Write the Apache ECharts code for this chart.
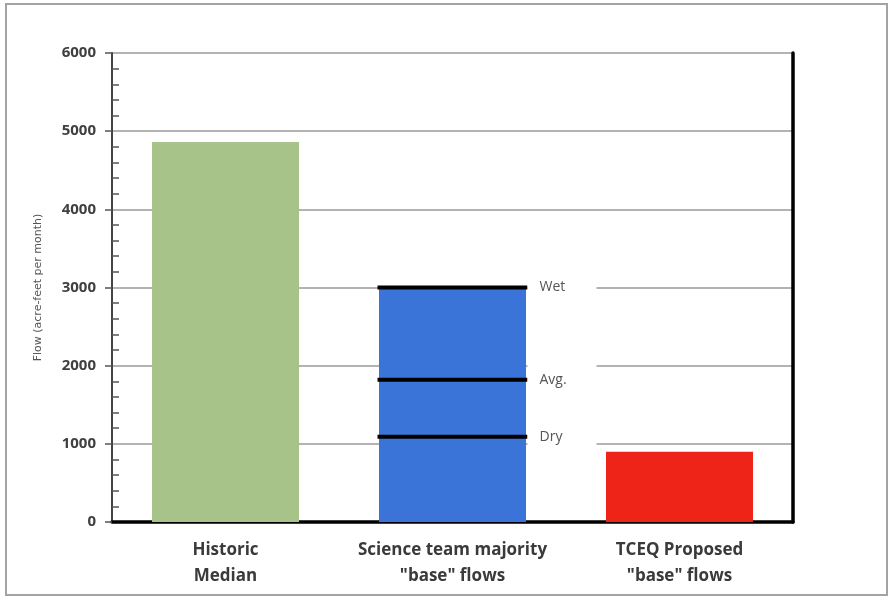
<!DOCTYPE html>
<html>
<head>
<meta charset="utf-8">
<script src="https://cdn.jsdelivr.net/npm/echarts@6/dist/echarts.min.js"></script>
<style>
  body { margin: 0; background: #fff; }
  #frame {
    position: absolute; left: 5px; top: 3px;
    width: 879px; height: 589px;
    border: 2px solid #a3a3a3;
  }
  #chart { position: absolute; left: 0; top: 0; width: 890px; height: 596px; }
</style>
</head>
<body>
<div id="frame"></div>
<div id="chart"></div>
<script>
  // categories and values
  var categories = ['Historic\nMedian', 'Science team majority\n"base" flows', 'TCEQ Proposed\n"base" flows']
  var flowValues = [4860, 3000, 900]
  var barColors = ['#a8c38a', '#3b74d8', '#ef2419']

  // Wet / Avg. / Dry levels drawn across the science team bar
  var levelNames = ['Wet', 'Avg.', 'Dry']
  var levelValues = [3000, 1820, 1090]
  var levelCategory = 1

  var yTicks = [0, 1000, 2000, 3000, 4000, 5000, 6000]
  var yMin = yTicks[0]
  var yMax = yTicks[yTicks.length - 1]
  var yStep = yTicks[1] - yTicks[0]

  var chart = echarts.init(document.getElementById('chart'))

  var barData = flowValues.map(function (v, i) {
    return { value: v, itemStyle: { color: barColors[i] } }
  })
  var levelData = levelValues.map(function (v, i) {
    return { name: levelNames[i], value: [levelCategory, v] }
  })

  var option = {
    animation: false,
    grid: { left: 112, right: 97, top: 53, bottom: 74 },
    xAxis: [
      {
        type: 'category',
        data: categories,
        axisLine: { show: true, lineStyle: { color: '#333', width: 2 } },
        axisTick: { show: false },
        axisLabel: {
          interval: 0,
          margin: 15,
          color: '#3a3a3a',
          fontSize: 17,
          fontWeight: 'bold',
          fontFamily: 'Open Sans',
          lineHeight: 26
        }
      },
      {
        type: 'category',
        data: categories,
        position: 'top',
        axisLine: { show: true, lineStyle: { color: '#000', width: 3.5 } },
        axisTick: { show: false },
        axisLabel: { show: false }
      }
    ],
    yAxis: [
      {
        type: 'value',
        min: yMin,
        max: yMax,
        interval: yStep,
        name: 'Flow (acre-feet per month)',
        nameLocation: 'middle',
        nameGap: 68,
        nameTextStyle: { color: '#555', fontSize: 11, fontFamily: 'DejaVu Sans' },
        axisLine: { show: true, lineStyle: { color: '#444', width: 2 } },
        axisTick: { show: true, inside: false, length: 7, lineStyle: { color: '#555', width: 1.5 } },
        axisLabel: {
          margin: 16,
          color: '#404040',
          fontSize: 15,
          fontWeight: 'bold',
          fontFamily: 'Open Sans',
          formatter: function (v) { return String(v) }
        },
        splitLine: { show: true, lineStyle: { color: '#9a9a9a', width: 1.5 } }
      },
      {
        type: 'value',
        min: yMin,
        max: yMax,
        interval: yStep,
        position: 'right',
        axisLine: { show: true, lineStyle: { color: '#000', width: 3.5 } },
        axisTick: { show: false },
        axisLabel: { show: false },
        splitLine: { show: false }
      },
      {
        type: 'value',
        min: yMin,
        max: yMax,
        interval: yStep,
        position: 'left',
        axisLine: { show: false },
        axisTick: { show: false, inside: true },
        minorTick: { show: true, splitNumber: 5, length: 7, lineStyle: { color: '#555', width: 1.5 } },
        axisLabel: { show: false },
        splitLine: { show: false }
      }
    ],
    series: [
      {
        type: 'bar',
        data: barData,
        barWidth: 147,
        z: 2
      },
      {
        type: 'scatter',
        data: levelData,
        symbol: 'rect',
        symbolSize: [150, 4],
        itemStyle: { color: '#000', opacity: 1 },
        z: 5,
        label: {
          show: true,
          position: 'right',
          distance: 0,
          formatter: '{b}',
          color: '#555',
          fontSize: 14,
          fontFamily: 'Open Sans',
          backgroundColor: '#fff',
          width: 45,
          padding: [17, 12, 13, 12]
        }
      }
    ]
  }

  chart.setOption(option)
</script>
</body>
</html>
